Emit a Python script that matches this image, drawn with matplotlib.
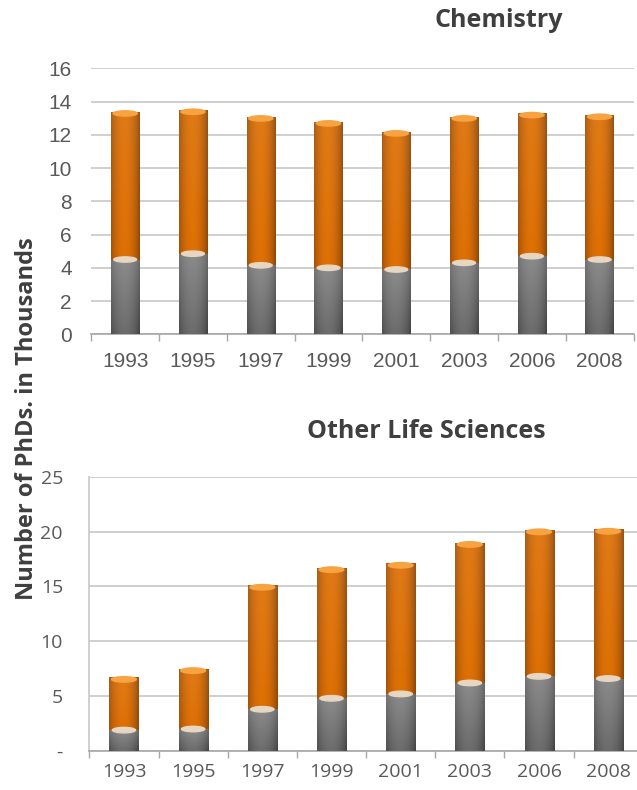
import numpy as np
import matplotlib
matplotlib.use("Agg")
import matplotlib.pyplot as plt
from matplotlib.patches import Ellipse
from matplotlib.ticker import FixedLocator, FuncFormatter

years = ["1993", "1995", "1997", "1999", "2001", "2003", "2006", "2008"]

# Chemistry PhDs (thousands): lower segment and total height
chem_lower = [4.5, 4.85, 4.15, 4.0, 3.9, 4.3, 4.7, 4.5]
chem_total = [13.4, 13.5, 13.1, 12.8, 12.2, 13.1, 13.3, 13.2]

# Other life sciences PhDs (thousands)
life_lower = [1.9, 2.0, 3.8, 4.8, 5.2, 6.2, 6.8, 6.6]
life_total = [6.7, 7.5, 15.1, 16.7, 17.1, 19.0, 20.15, 20.2]

ORANGE = np.array([222, 112, 4]) / 255
ORANGE_EDGE = np.array([120, 58, 8]) / 255
GRAY = np.array([108, 108, 108]) / 255
GRAY_EDGE = np.array([55, 55, 55]) / 255


def shade(base, edge, lighten_top=0.0, n=64, m=32):
    t = np.linspace(0, 1, n)
    prof = np.clip(np.sin(np.pi * (0.08 + 0.9 * t)), 0, 1) ** 0.6
    rows = []
    for v in np.linspace(1, 0, m):
        col = edge[None, :] + (base - edge)[None, :] * prof[:, None]
        col = col + lighten_top * v * (1 - col) * 0.35
        rows.append(col)
    return np.clip(np.array(rows), 0, 1)


def draw_panel(ax, lower, total, ymax, step, cap_h, zero_label, font, xpad, ypad, fs):
    x = np.arange(len(years))
    w = 0.42
    upper = [t - l for t, l in zip(total, lower)]
    b1 = ax.bar(x, lower, width=w, color=GRAY, zorder=3)
    b2 = ax.bar(x, upper, bottom=lower, width=w, color=ORANGE, zorder=3)
    g_img = shade(GRAY, GRAY_EDGE, lighten_top=0.6)
    o_img = shade(ORANGE, ORANGE_EDGE, lighten_top=0.2)
    for bars, img in ((b1, g_img), (b2, o_img)):
        for p in bars:
            x0, y0 = p.get_x(), p.get_y()
            im = ax.imshow(img, extent=[x0, x0 + p.get_width(), y0, y0 + p.get_height()],
                           aspect="auto", zorder=4, interpolation="bilinear")
            im.set_clip_path(p)
    for xi, lo, to in zip(x, lower, total):
        ax.add_patch(Ellipse((xi, lo), w * 0.8, cap_h, color=(0.90, 0.84, 0.76), zorder=5))
        ax.add_patch(Ellipse((xi, to - cap_h * 0.35), w * 0.85, cap_h, color=(0.97, 0.64, 0.26), zorder=5))

    ax.set_xlim(-0.5, len(years) - 0.5)
    ax.set_ylim(0, ymax)
    ax.set_xticks(x)
    ax.set_xticklabels(years)
    ax.xaxis.set_minor_locator(FixedLocator(np.arange(-0.5, len(years), 1.0)))
    ax.tick_params(axis="x", which="major", length=0, pad=xpad, labelsize=fs, colors="#595959")
    ax.tick_params(axis="x", which="minor", length=5, color="#a6a6a6", width=1)
    ticks = np.arange(0, ymax + 0.1, step)
    ax.set_yticks(ticks)
    ax.yaxis.set_major_formatter(FuncFormatter(
        lambda v, _: zero_label if v == 0 else f"{v:g}"))
    ax.tick_params(axis="y", length=0, pad=ypad, labelsize=fs, colors="#595959")
    for lab in ax.get_xticklabels() + ax.get_yticklabels():
        lab.set_family(font)
    ax.grid(axis="y", color="#cfcfcf", linewidth=1.4, zorder=0)
    ax.set_axisbelow(True)
    for s in ("top", "right"):
        ax.spines[s].set_visible(False)
    ax.spines["bottom"].set_color("#a6a6a6")
    ax.spines["bottom"].set_linewidth(1.2)


fig = plt.figure(figsize=(6.37, 7.9), dpi=100)

ax1 = fig.add_axes([0.1433, 0.5768, 0.8513, 0.3367])
draw_panel(ax1, chem_lower, chem_total, 16, 2, 0.32, "0",
           "Liberation Sans", 13, 14, 15)
ax1.spines["left"].set_visible(False)

ax2 = fig.add_axes([0.1403, 0.0494, 0.8688, 0.3472])
draw_panel(ax2, life_lower, life_total, 25, 5, 0.5, "-",
           "Open Sans", 9, 19, 14)
ax2.spines["left"].set_color("#c8c8c8")
ax2.spines["left"].set_linewidth(1.2)

fig.text(0.783, 0.9658, "Chemistry", ha="center", va="baseline",
         fontsize=18, fontweight="bold", family="Open Sans", color="#3f3f3f")
fig.text(0.670, 0.4452, "Other Life Sciences", ha="center", va="baseline",
         fontsize=18, fontweight="bold", family="Open Sans", color="#3f3f3f")
fig.text(0.042, 0.470, "Number of PhDs. in Thousands", ha="center", va="center",
         rotation=90, fontsize=17, fontweight="bold", family="Open Sans", color="#3f3f3f")

fig.savefig("out.png", dpi=100, facecolor="white")
